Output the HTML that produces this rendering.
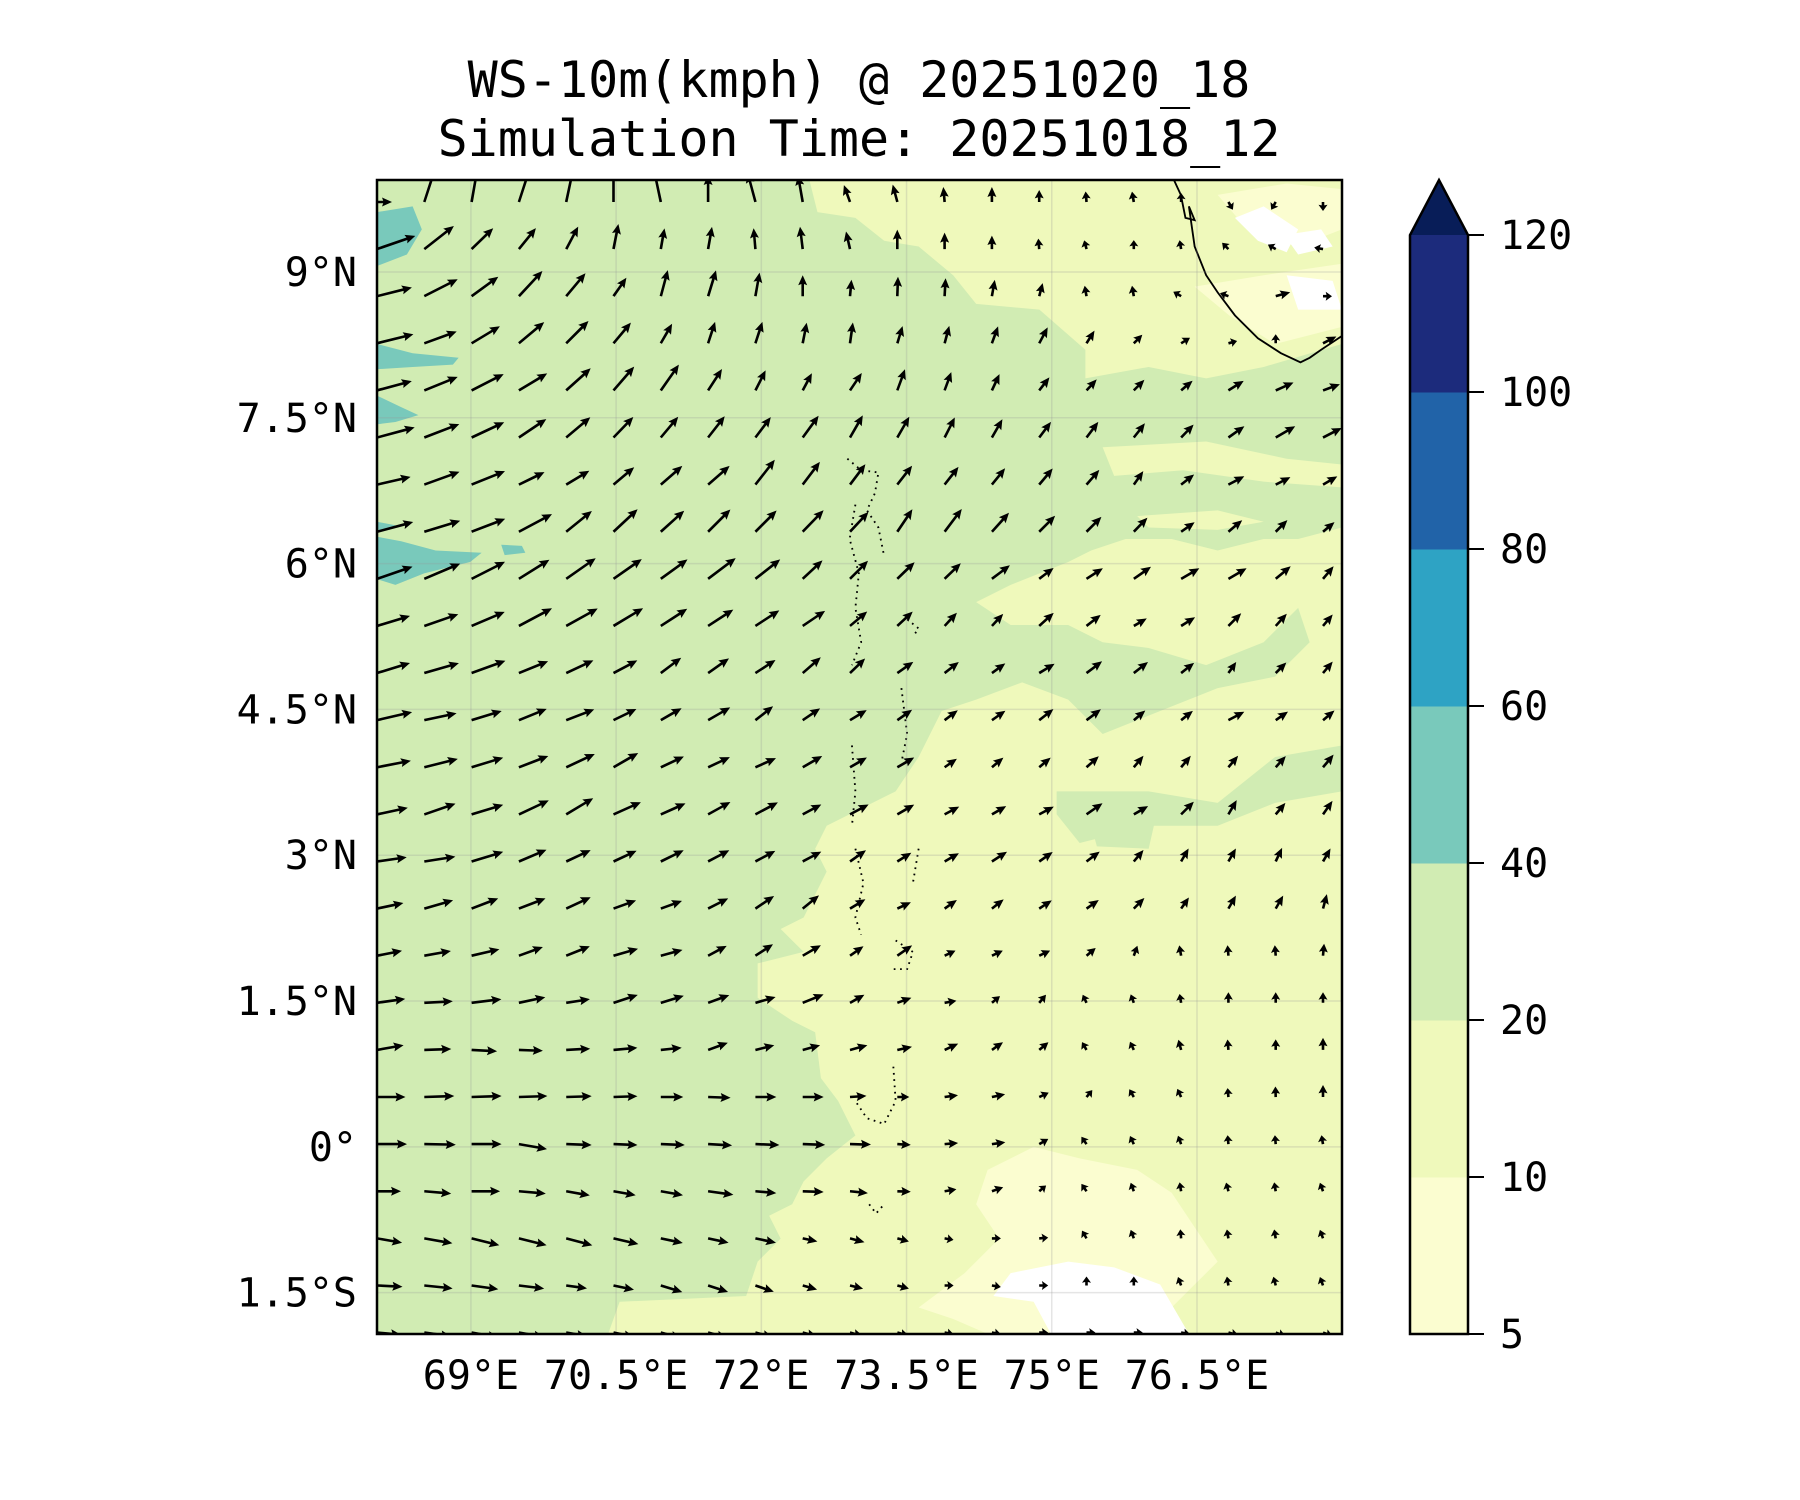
<!DOCTYPE html>
<html>
<head>
<meta charset="utf-8">
<style>
  html,body{margin:0;padding:0;background:#fff;}
  #fig{position:relative;width:1800px;height:1500px;overflow:hidden;}
  svg text{font-family:"DejaVu Sans Mono","Liberation Mono",monospace;fill:#000;}
</style>
</head>
<body>
<div id="fig">
<svg id="chart" width="1800" height="1500" viewBox="0 0 1800 1500" xmlns="http://www.w3.org/2000/svg">
  <defs>
    <clipPath id="plotClip"><rect x="377" y="180" width="965" height="1154"/></clipPath>
  </defs>
  <text x="859" y="97" font-size="50" text-anchor="middle">WS-10m(kmph) @ 20251020_18</text>
  <text x="859" y="156" font-size="50" text-anchor="middle">Simulation Time: 20251018_12</text>

  <g clip-path="url(#plotClip)">
    <rect x="377" y="180" width="965" height="1154" fill="#eff9bb"/>
    <g transform="translate(377,180) scale(1.150,1.147) translate(-329,-157)">
      <path fill="#d1ecb3" d="M329,157 L705,157 712,185 745,190 770,210 800,215 830,240 850,265 905,270 945,305 945,330 1000,320 1050,330 1100,320 1168,300 1168,460 1130,470 1100,470 1060,480 1020,470 980,470 950,480 930,490 880,510 850,525 880,545 930,545 960,560 1000,565 1050,580 1100,560 1130,530 1140,560 1110,590 1060,600 1010,620 960,640 930,610 890,595 850,610 820,620 810,640 800,660 780,690 740,710 720,720 710,740 720,760 700,800 680,810 700,830 660,840 660,870 690,890 710,900 715,940 730,960 745,990 720,1010 700,1030 690,1050 670,1060 680,1080 660,1100 650,1130 540,1135 530,1163 329,1163 Z"/>
      <path fill="#d1ecb3" d="M920,690 L1000,690 1060,700 1110,660 1168,650 1168,690 1110,700 1060,720 1000,720 940,735 920,710 Z"/>
      <path fill="#d1ecb3" d="M1115,665 L1168,655 1168,680 1130,682 Z M950,720 L1005,718 1000,740 955,738 Z"/>
      <path fill="#eff9bb" d="M960,390 L1050,385 1120,400 1168,405 1168,425 1100,420 1030,410 970,415 Z M990,450 L1060,445 1100,455 1060,462 1000,460 Z M880,520 L930,510 980,520 940,530 Z"/>
      <path fill="#fbfdd0" d="M1040,250 L1100,240 1168,230 1168,285 1110,300 1070,275 Z M1060,170 L1120,160 1168,165 1168,200 1130,215 1090,205 Z"/>
      <path fill="#ffffff" d="M1075,190 L1100,180 1130,200 1120,220 1095,210 Z M1120,240 L1160,245 1168,270 1130,270 Z M1118,205 L1150,200 1160,215 1130,222 Z"/>
      <path fill="#fbfdd0" d="M860,1020 L900,1000 940,1010 990,1020 1020,1040 1040,1070 1060,1100 1040,1120 1020,1140 1000,1163 860,1163 830,1150 800,1140 840,1110 870,1080 850,1050 Z"/>
      <path fill="#ffffff" d="M880,1110 L930,1100 970,1105 1010,1120 1035,1163 915,1163 900,1135 865,1130 Z"/>
      <path fill="#79c9bb" d="M329,185 L360,180 368,200 355,222 329,232 Z M329,300 L360,308 400,312 395,318 360,320 329,322 Z M329,345 L350,355 365,362 345,368 329,370 Z M329,468 L350,472 380,480 420,482 410,490 390,495 370,500 345,510 329,505 Z M437,475 L455,476 458,482 440,484 Z M329,455 L345,458 340,462 329,462 Z"/>
      <path fill="none" stroke="#000" stroke-width="1.6" d="M1022,157 L1028,170 1032,190 1040,192 1035,180 1040,215 1050,240 1060,255 1075,275 1095,295 1115,308 1132,316 1140,312 1150,305 1168,293"/>
      <path fill="none" stroke="#000" stroke-width="1.6" stroke-dasharray="1.5,4" d="M738,400 L750,410 765,412 762,430 755,445 765,460 770,485 M745,440 L740,470 748,500 745,530 750,560 742,580 M790,540 L800,548 795,555 M785,600 L790,640 785,665 M742,650 L745,690 742,720 M745,740 L752,770 745,800 750,815 M800,740 L795,770 M780,820 L795,830 790,845 775,845 M778,930 L780,960 770,980 755,975 745,960 M757,1050 L763,1058 770,1050"/>
    </g>
    <g id="grid"></g>
    <g id="arrows"></g>
  </g>
  <rect x="377" y="180" width="965" height="1154" fill="none" stroke="#000" stroke-width="2.5"/>
  <g id="axes"></g>
  <g id="cbar"></g>
</svg>
</div>
<script>
// ---- data ----
const lonTicks = [69, 70.5, 72, 73.5, 75, 76.5];
const lonTickLabels = ["69°E", "70.5°E", "72°E", "73.5°E", "75°E", "76.5°E"];
const latTicks = [9, 7.5, 6, 4.5, 3, 1.5, 0, -1.5];
const latTickLabels = ["9°N", "7.5°N", "6°N", "4.5°N", "3°N", "1.5°N", "0°", "1.5°S"];
const cbarLevels = [5, 10, 20, 40, 60, 80, 100, 120];
const cbarColors = ["#fbfdd0", "#eff9bb", "#d1ecb3", "#79c9bb", "#2ea3c4", "#2163a8", "#1c2b7c"];
const cbarExtendColor = "#081d58";
const gridLon0 = 68.03, gridDLon = 0.4886;
const gridLat0 = 9.72, gridDLat = 0.4846;
// wind direction (deg, counter-clockwise from east) per row (north to south), 21 columns
const windDir = [
 [0,72,80,72,78,90,102,90,105,100,110,105,95,90,90,95,100,90,-60,-120,-90],
 [19,38,44,51,62,79,80,80,95,97,103,90,90,90,95,105,90,100,135,150,170],
 [14,27,36,47,50,55,75,73,80,90,85,88,87,80,75,100,100,150,160,15,0],
 [14,20,31,40,45,50,60,72,72,79,82,73,75,70,62,58,45,32,15,90,27],
 [15,22,27,31,42,49,55,57,63,62,56,70,70,65,52,47,45,40,32,24,20],
 [15,21,25,34,40,46,50,52,53,54,60,60,63,60,53,53,52,46,35,30,27],
 [13,20,22,26,31,40,41,41,52,53,53,52,52,51,50,49,55,38,28,27,30],
 [15,17,21,28,39,43,42,45,45,46,47,56,53,48,45,45,46,35,40,45,40],
 [19,23,27,32,35,35,36,37,38,43,45,44,44,37,37,33,35,30,30,40,50],
 [17,19,23,28,29,31,33,33,33,34,40,43,47,47,42,38,30,32,45,48,50],
 [17,16,20,22,25,28,37,35,33,41,44,35,38,36,31,37,38,38,55,45,50],
 [13,12,17,22,21,26,30,30,38,34,31,35,37,35,38,37,40,38,28,35,40],
 [11,14,17,21,25,30,25,25,24,30,30,30,35,40,40,42,50,50,50,48,50],
 [12,19,17,25,31,24,24,29,28,28,28,30,28,30,28,35,30,45,60,50,55],
 [8,9,17,23,25,25,26,28,28,28,35,32,30,33,35,37,50,60,60,65,60],
 [12,16,21,21,25,20,20,27,34,39,31,25,35,38,33,35,45,55,60,60,75],
 [11,10,13,20,22,16,15,28,33,30,35,35,25,25,25,40,70,100,95,95,85],
 [8,3,7,12,9,18,17,20,16,22,29,20,10,40,50,115,110,100,90,90,90],
 [10,2,-3,-2,3,5,6,20,14,15,15,12,25,35,40,120,115,105,95,90,90],
 [0,2,2,2,2,2,0,-2,0,0,4,0,8,12,25,50,120,115,95,92,90],
 [0,-1,0,-10,-2,-2,-2,-3,-2,-2,-1,-3,5,8,30,125,115,110,95,95,100],
 [0,-5,0,-5,-10,-10,-10,-8,-5,-2,-6,-2,10,20,40,125,110,100,105,100,110],
 [-10,-10,-14,-14,-15,-13,-12,-12,-12,-12,-15,-15,-10,0,5,120,110,95,100,100,110],
 [-3,-6,-8,-7,-8,-12,-17,-18,-19,-16,-14,-15,0,-10,0,90,90,110,100,105,110],
 [-5,-8,-10,-10,-10,-12,-15,-15,-15,-15,-15,-15,-10,-10,0,0,0,-10,-15,-20,-20]
];
// wind speed (kmph) per row
const windSpd = [
 [10,28,28,26,24,24,22,18,20,18,12,12,10,10,8,7,7,5,3,3,3],
 [27,25,20,18,17,17,14,15,14,15,12,13,11,9,7,6,6,5,3,3,3],
 [24,25,22,23,20,15,18,18,16,14,11,13,12,11,9,7,7,3,3,10,2],
 [25,23,22,22,21,18,15,15,15,14,14,12,12,12,12,10,8,7,6,3,10],
 [24,24,24,22,22,21,21,17,15,13,14,15,13,12,11,10,10,10,12,13,12],
 [26,25,24,22,21,19,18,18,17,18,17,16,15,14,13,13,12,12,13,15,14],
 [23,25,24,19,18,18,19,19,21,19,17,16,15,14,14,13,11,11,12,11,11],
 [25,25,24,25,22,22,21,21,20,20,18,18,19,17,15,14,13,11,12,11,10],
 [25,26,25,24,24,23,22,23,21,18,17,16,15,15,12,13,14,14,14,13,11],
 [23,24,24,25,24,23,21,20,19,18,15,14,12,11,13,12,10,11,12,11,10],
 [23,24,24,21,20,18,17,17,16,16,14,13,12,11,12,13,12,11,9,10,10],
 [24,22,21,20,20,17,16,17,15,14,13,12,11,11,12,12,10,10,12,10,10],
 [23,23,22,21,21,19,17,16,15,15,13,13,10,10,10,11,10,10,10,10,11],
 [21,22,22,22,21,20,18,17,17,14,14,13,11,11,11,13,11,12,11,10,11],
 [20,21,22,20,18,17,17,16,15,14,13,11,11,12,11,11,10,10,10,10,10],
 [18,20,19,19,18,16,15,15,15,14,12,10,10,10,10,10,10,9,10,10,10],
 [17,18,19,17,17,17,15,14,14,14,11,12,8,8,8,8,7,7,7,7,8],
 [19,19,20,18,16,17,16,15,14,15,11,10,8,7,7,6,6,6,7,7,7],
 [18,18,17,16,16,16,14,14,13,12,12,10,10,9,8,6,6,7,7,7,8],
 [19,20,20,19,17,16,15,15,14,14,11,8,9,9,7,6,5,5,6,7,8],
 [20,21,20,19,17,16,16,16,16,15,14,9,9,9,7,5,5,5,5,5,5],
 [16,18,19,18,16,15,15,17,14,14,12,9,8,8,6,4,5,5,6,6,6],
 [17,19,19,19,18,17,15,14,14,10,10,8,6,5,5,3,3,4,5,6,6],
 [17,19,18,17,14,14,15,14,13,10,9,8,5,3,3,2,2,3,5,6,6],
 [16,18,18,17,14,14,14,13,12,10,9,8,5,3,3,2,2,4,7,7,7]
];

// ---- scales ----
const PX0 = 377, PX1 = 1342, PY0 = 180, PY1 = 1334;
const LON0 = 68.03, LON1 = 77.998, LAT0 = 9.946, LAT1 = -1.925;
function xScale(lon){ return PX0 + (lon - LON0) / (LON1 - LON0) * (PX1 - PX0); }
function yScale(lat){ return PY0 + (LAT0 - lat) / (LAT0 - LAT1) * (PY1 - PY0); }
function lenScale(spd){ return Math.max(9, spd * 1.5); }
const CB_TOP = 235, CB_BOT = 1334, CB_X = 1410, CB_W = 58;
function cbScale(i){ return CB_BOT - i * (CB_BOT - CB_TOP) / (cbarLevels.length - 1); }

const NS = "http://www.w3.org/2000/svg";
function mk(tag, parent){ const e = document.createElementNS(NS, tag); parent.appendChild(e); return e; }

// gridlines
const grid = document.getElementById('grid');
lonTicks.forEach(function(lon){
  const l = mk('line', grid);
  
  
  l.setAttribute('x1', xScale(lon)); l.setAttribute('x2', xScale(lon));
  l.setAttribute('y1', PY0); l.setAttribute('y2', PY1);
  l.setAttribute('stroke', '#999'); l.setAttribute('stroke-opacity', '0.25'); l.setAttribute('stroke-width', '1.5');
});
latTicks.forEach(function(lat){
  const l = mk('line', grid);
  
  
  l.setAttribute('y1', yScale(lat)); l.setAttribute('y2', yScale(lat));
  l.setAttribute('x1', PX0); l.setAttribute('x2', PX1);
  l.setAttribute('stroke', '#999'); l.setAttribute('stroke-opacity', '0.25'); l.setAttribute('stroke-width', '1.5');
});

// arrows
const arrows = document.getElementById('arrows');
windDir.forEach(function(row, j){
  row.forEach(function(dir, i){
    const spd = windSpd[j][i];
    const x0 = xScale(gridLon0 + i * gridDLon);
    const y0 = yScale(gridLat0 - j * gridDLat);
    const L = lenScale(spd);
    const a = dir * Math.PI / 180;
    const ux = Math.cos(a), uy = -Math.sin(a);
    const px = -uy, py = ux;
    const sw = 1.3, hl = Math.min(10, L * 0.7), hw = 4.5;
    const sl = L - hl, notch = hl * 0.12;
    const pts = [];
    function P(s, t){ pts.push((x0 + ux * s + px * t).toFixed(1) + ',' + (y0 + uy * s + py * t).toFixed(1)); }
    P(0, -sw); P(sl + notch, -sw); P(sl, -hw); P(L, 0); P(sl, hw); P(sl + notch, sw); P(0, sw);
    const pg = mk('polygon', arrows);
    
    
    pg.setAttribute('points', pts.join(' '));
    pg.setAttribute('fill', '#000');
  });
});

// axes labels
const axes = document.getElementById('axes');
lonTicks.forEach(function(lon, k){
  const t = mk('text', axes);
  
  
  t.setAttribute('x', xScale(lon)); t.setAttribute('y', 1389);
  t.setAttribute('font-size', '40'); t.setAttribute('text-anchor', 'middle');
  t.textContent = lonTickLabels[k];
});
latTicks.forEach(function(lat, k){
  const t = mk('text', axes);
  
  
  t.setAttribute('x', 357); t.setAttribute('y', yScale(lat) + 14);
  t.setAttribute('font-size', '40'); t.setAttribute('text-anchor', 'end');
  t.textContent = latTickLabels[k];
});

// colorbar
const cb = document.getElementById('cbar');
cbarColors.forEach(function(c, i){
  const r = mk('rect', cb);
  
  
  r.setAttribute('x', CB_X); r.setAttribute('width', CB_W);
  r.setAttribute('y', cbScale(i + 1)); r.setAttribute('height', cbScale(i) - cbScale(i + 1) + 0.5);
  r.setAttribute('fill', c);
});
const tri = mk('polygon', cb);


tri.setAttribute('points', CB_X + ',' + CB_TOP + ' ' + (CB_X + CB_W / 2) + ',180 ' + (CB_X + CB_W) + ',' + CB_TOP);
tri.setAttribute('fill', cbarExtendColor);
const cbo = mk('path', cb);


cbo.setAttribute('d', 'M' + CB_X + ',' + CB_BOT + ' L' + CB_X + ',' + CB_TOP + ' L' + (CB_X + CB_W / 2) + ',180 L' + (CB_X + CB_W) + ',' + CB_TOP + ' L' + (CB_X + CB_W) + ',' + CB_BOT + ' Z');
cbo.setAttribute('fill', 'none'); cbo.setAttribute('stroke', '#000'); cbo.setAttribute('stroke-width', '2.5');
cbarLevels.forEach(function(v, i){
  const y = cbScale(i);
  const tk = mk('line', cb);
  
  
  tk.setAttribute('x1', CB_X + CB_W); tk.setAttribute('x2', CB_X + CB_W + 16);
  tk.setAttribute('y1', y); tk.setAttribute('y2', y);
  tk.setAttribute('stroke', '#000'); tk.setAttribute('stroke-width', '2');
  const t = mk('text', cb);
  
  
  t.setAttribute('x', 1500); t.setAttribute('y', y + 14);
  t.setAttribute('font-size', '40');
  t.textContent = String(v);
});
</script>
</body>
</html>
